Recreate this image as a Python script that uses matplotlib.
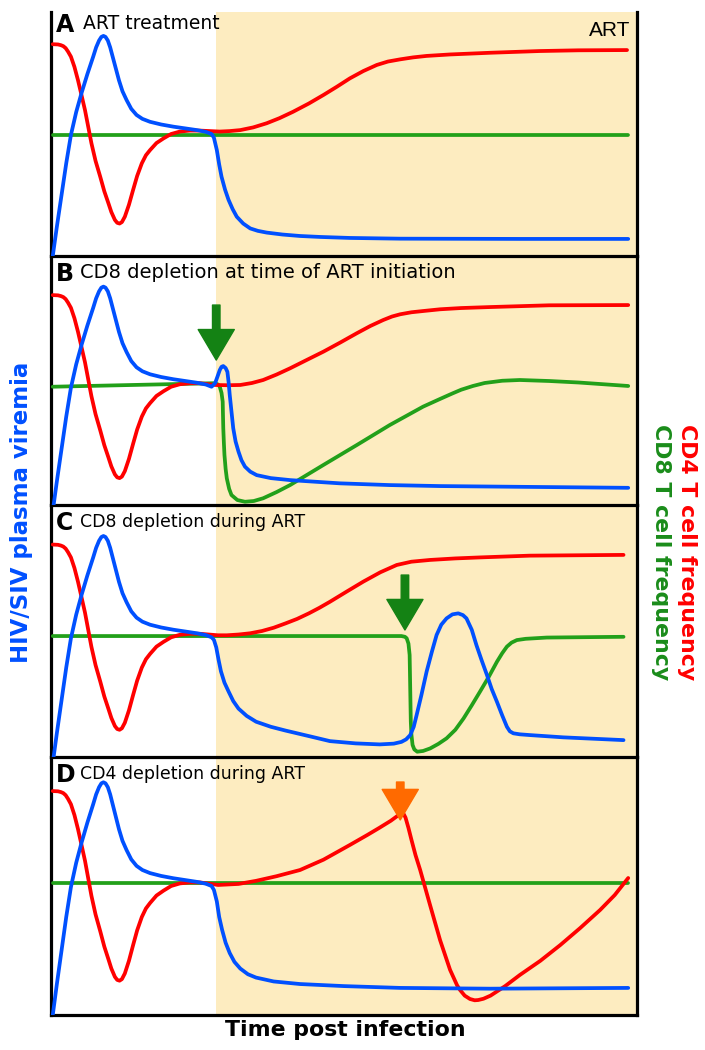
import numpy as np
import matplotlib.pyplot as plt

# schematic curves, time 0-100 (arbitrary), level 0-100 (arbitrary)
art_start = 28.1

# pre-ART part, shared by all four panels
early_t_blue = [0.3, 1.0, 1.8, 2.6, 3.4, 4.3, 5.2, 6.2, 7.2, 7.7, 8.2, 8.6, 8.95, 9.3, 9.7, 10.1,
                10.6, 11.1, 11.6, 12.2, 12.9, 13.7, 14.6, 15.6, 16.9, 18.8, 20.9, 22.9, 24.9,
                26.4, 27.4]
early_blue = [0, 12, 25, 38, 49.6, 59, 66.7, 74.5, 81.7, 85.5, 88.3, 89.8, 90.2, 89.8, 88.3, 85.5,
              81, 76.5, 72, 67.5, 63.9, 60.3, 57.8, 56.2, 55.0, 53.9, 53.0, 52.3, 51.6,
              50.9, 50.0]
early_t_red = [0.3, 1.2, 1.7, 2.1, 2.5, 2.9, 3.4, 4.0, 4.6, 5.2, 5.8, 6.9, 7.6, 8.4, 9.1, 9.8,
               10.3, 10.9, 11.3, 11.7, 12.1, 12.6, 13.3, 14.0, 14.7, 15.5, 16.2, 16.9, 18.0,
               19.2, 20.5, 22.0, 23.7, 25.4]
early_red = [86.8, 86.7, 86.4, 86.0, 85.2, 83.8, 81.7, 77.5, 72.1, 66, 59.8, 46.2, 39, 32.5, 26.5,
             21.6, 18, 14.8, 13.6, 13.3, 13.9, 16.1, 21, 27.0, 32.8, 38.0, 41.3, 43.4, 46.3,
             48.2, 50, 51.0, 51.4, 51.4]
early_shift = [0, -2.5, -2.5, 0]

# A: ART treatment
a_t_red = [28.8, 30.5, 32.3, 34.5, 36.8, 39, 41.3, 44, 46.5, 48.8, 51.0, 53.3, 55.6, 57.5, 59.6,
           61.8, 64.1, 68.1, 75, 83.4, 90, 98.3]
a_red = [51.0, 51.2, 51.6, 52.7, 54.4, 56.5, 59.1, 62.5, 66.0, 69.4, 72.8, 75.8, 78.3, 79.7, 80.6,
         81.4, 82.0, 82.6, 83.3, 84.0, 84.3, 84.4]
a_t_blue = [27.8, 28.3, 28.7, 29.1, 29.7, 30.3, 31.0, 31.7, 32.8, 34.0, 35.3, 36.8, 39.5, 42.5, 46,
            51.0, 59.6, 80, 98.5]
a_blue = [48.5, 43.4, 37.5, 32.5, 27.2, 23.0, 19.2, 16.1, 13.3, 11.3, 10.3, 9.6, 8.8, 8.2, 7.8,
          7.4, 7.1, 7.0, 7.0]
a_t_green = [0.3, 98.5]
a_green = [49.6, 49.6]

# B: CD8 depletion at ART initiation
b_t_red = [28.0, 30.2, 32.3, 34.3, 36.2, 38.5, 40.8, 43.6, 46.5, 49.4, 52.2, 54.5, 56.7, 58.2,
           59.6, 61.5, 63.5, 66.4, 70, 75, 85, 98.5]
b_red = [48.2, 48.1, 48.2, 49, 50.2, 52.4, 54.9, 58.2, 61.6, 65.3, 69.0, 71.9, 74.3, 75.7,
         76.6, 77.4, 77.9, 78.6, 79.1, 79.5, 80.2, 80.3]
b_t_blue = [28.0, 28.4, 28.8, 29.1, 29.4, 29.8, 30.1, 30.3, 30.5, 30.8, 31.1, 31.5, 32.0, 32.5,
            33.1, 34, 35.1, 37.5, 40.8, 49.3, 57.8, 66.4, 98.5]
b_blue = [48.9, 51.5, 54.2, 55.5, 55.8, 55.0, 53.5, 49.5, 44.2, 37.5, 30.8, 25.5, 21.4, 18,
          15.4, 13.4, 12.0, 10.8, 10.0, 8.7, 8.0, 7.6, 6.9]
b_t_green = [0.3, 27.5, 28.0, 28.5, 28.8, 29.1, 29.3, 29.35, 29.4, 29.5, 29.6, 29.8, 30.0, 30.4,
             30.8, 31.8, 33.1, 34.6, 36.2, 38.5, 40.8, 46.5, 52.2, 57.8, 63.5, 66.4, 68.5, 70,
             72, 74, 77, 80, 85, 90, 98.5]
b_green = [47.5, 48.9, 48.9, 48.4, 47.5, 45, 41.5, 36, 30.8, 25, 20.1, 14.5, 10.7, 6.5,
           4.0, 2.0, 1.3, 1.6, 2.7, 5.2, 8.0, 16.1, 24.1, 32.1, 39.5, 42.6, 44.8, 46.3,
           47.8, 49, 49.9, 50.2, 49.8, 49.2, 47.8]

# C: CD8 depletion during ART
c_t_red = [28.5, 30, 32, 34, 36, 38, 40, 42, 44, 45.8, 47.6, 50.5, 53.3, 56.2, 59.0, 61.5, 64.7,
           69, 73.2, 81.7, 97.7]
c_red = [48.3, 48.3, 48.6, 49.1, 50, 51.3, 53, 54.8, 57, 59.2, 61.6, 65.7, 69.6, 73.3, 76.2,
         77.5, 78.2, 78.8, 79.2, 79.9, 80.2]
c_t_blue = [27.8, 28.2, 28.6, 29.0, 29.6, 30.3, 31.1, 32, 33.4, 35, 37.5, 40, 44, 47.6, 52, 56.1,
            58.5, 59.8, 60.6, 61.3, 61.9, 62.4, 63.2, 64.1, 65.0, 65.8, 66.6, 67.5, 68.5, 69.5,
            70.3, 70.9, 71.8, 72.6, 73.5, 74.4, 75.2, 76.1, 77.0, 77.8, 78.3, 78.9, 80, 81.7,
            87.4, 97.7]
c_blue = [46.5, 43.5, 38.5, 34, 29.5, 26, 22.2, 19.2, 16.3, 14, 12, 10.5, 8.3, 6.3, 5.4, 5.0,
          5.3, 6.0, 7, 8.7, 12, 16.7, 24.5, 33.9, 41.8, 48.4, 52.5, 55.0, 56.6, 57.0,
          56.3, 55.0, 50.5, 44.4, 38.3, 32.5, 27, 21.9, 16.5, 12.0, 10.2, 9.4, 9.0, 8.7,
          7.8, 6.7]
c_t_green = [0.3, 59.8, 60.4, 60.7, 61.0, 61.2, 61.25, 61.3, 61.35, 61.4, 61.5, 61.7, 62.0, 62.5,
             63.5, 64.7, 66.1, 67.5, 69, 70.4, 71.8, 73.2, 74.7, 76.1, 77.0, 77.8, 78.6, 79.5,
             81, 84.6, 97.7]
c_green = [48, 48, 47.7, 47.1, 45, 40.5, 34, 27.2, 20.5, 14.0, 9, 4.8, 3.0, 2.1,
           2.4, 3.4, 5.2, 7.4, 10.8, 15.3, 20.5, 25.9, 31.8, 37.8, 41.2, 43.8, 45.4, 46.4,
           46.9, 47.4, 47.7]

# D: CD4 depletion during ART
d_t_red = [28.5, 32, 35, 38.5, 42.5, 46.5, 51, 54, 56, 58, 59.2, 60.0, 60.5, 61.0, 61.5, 62.2, 63,
           64.7, 66.4, 68.1, 69.3, 69.8, 70.6, 71.5, 72.3, 72.9, 73.8, 75, 77.5, 80, 83.5, 86.9,
           90.3, 93.7, 96.2, 98.5]
d_red = [50.4, 50.8, 52, 53.8, 56.2, 60.2, 65.9, 69.8, 72.5, 75.3, 77.3, 78.7, 76.5, 72.5, 68,
         62, 56.2, 42.5, 29, 17.5, 11.5, 9.7, 7.5, 6.2, 5.7, 5.8, 6.3, 7.5, 11.2, 15.5, 21, 27.1,
         33.7, 40.7, 46.5, 53.1]
d_t_blue = [27.8, 28.3, 28.7, 29.2, 29.8, 30.5, 31.3, 32.3, 33.6, 35, 38, 42.5, 50, 59.6, 75, 98.5]
d_blue = [48.5, 44, 38, 33, 28, 24, 20.6, 18, 15.8, 14.5, 13, 12, 11.2, 10.5, 10.2, 10.5]
d_t_green = [0.3, 98.5]
d_green = [51.2, 51.2]

panel_letters = ['A', 'B', 'C', 'D']
panel_titles = ['ART treatment', 'CD8 depletion at time of ART initiation',
                'CD8 depletion during ART', 'CD4 depletion during ART']
title_size = [13.5, 14, 12.5, 12.5]
arrow_time = [None, 28.2, 60.4, 59.6]
arrow_top = [None, 80.3, 72.2, 90.3]
arrow_tip = [None, 58.2, 50.4, 75.6]
arrow_color = [None, '#148214', '#148214', '#ff6a00']

reds = [(a_t_red, a_red), (b_t_red, b_red), (c_t_red, c_red), (d_t_red, d_red)]
blues = [(a_t_blue, a_blue), (b_t_blue, b_blue), (c_t_blue, c_blue), (d_t_blue, d_blue)]
greens = [(a_t_green, a_green), (b_t_green, b_green), (c_t_green, c_green), (d_t_green, d_green)]

RED = '#ff0000'
BLUE = '#0050ff'
GREEN = '#22a01a'
SHADE = '#fdecc0'

W, H = 705, 1050
fig = plt.figure(figsize=(W / 100, H / 100), dpi=100)

# panel edges in pixels (top, bottom)
edges = [(12, 256), (256, 505), (505, 757), (757, 1015)]
x0, x1 = 51, 637

for i, (top, bot) in enumerate(edges):
    ax = fig.add_axes([x0 / W, 1 - bot / H, (x1 - x0) / W, (bot - top) / H])
    ax.set_zorder(10 - i)  # upper panel on top so its bottom border stays whole
    ax.set_facecolor('none')
    ax.set_xlim(0, 100)
    ax.set_ylim(0, 100)
    ax.axvspan(art_start, 100, color=SHADE, lw=0, zorder=0)

    s = early_shift[i]
    rt, rv = reds[i]
    bt, bv = blues[i]
    gt, gv = greens[i]
    kw = dict(lw=2.7, solid_capstyle='round', solid_joinstyle='round', zorder=3)
    ax.plot(gt, gv, color=GREEN, **kw)
    ax.plot(early_t_red + rt, [v + s for v in early_red] + rv, color=RED, **kw)
    ax.plot(early_t_blue + bt, [v + s for v in early_blue] + bv, color=BLUE, **kw)

    if arrow_time[i] is not None:
        ax.annotate('', xy=(arrow_time[i], arrow_tip[i]), xytext=(arrow_time[i], arrow_top[i]),
                    arrowprops=dict(arrowstyle='simple,head_length=1.1,head_width=1.3,tail_width=0.27',
                                    color=arrow_color[i], shrinkA=0, shrinkB=0, mutation_scale=20),
                    zorder=5)

    ax.text(0.008, 0.995 if i == 0 else 0.975, panel_letters[i], transform=ax.transAxes,
            fontsize=17, fontweight='bold', va='top', ha='left', zorder=6)
    ax.text(0.055 if i == 0 else 0.05, 0.99 if i == 0 else 0.97, panel_titles[i],
            transform=ax.transAxes, fontsize=title_size[i], va='top', ha='left', zorder=6)
    if i == 0:
        ax.text(0.988, 0.965, 'ART', transform=ax.transAxes, fontsize=15,
                family='Liberation Sans', va='top', ha='right', zorder=6)

    ax.set_xticks([])
    ax.set_yticks([])
    ax.spines['top'].set_visible(False)
    for side in ['left', 'right', 'bottom']:
        ax.spines[side].set_linewidth(2.3)

fig.text(22 / W, 1 - 512 / H, 'HIV/SIV plasma viremia', rotation=90, color=BLUE,
         fontsize=16.5, fontweight='bold', ha='center', va='center')
fig.text(661 / W, 1 - 552 / H, 'CD8 T cell frequency', rotation=270, color='#1a8c1a',
         fontsize=15.8, fontweight='bold', ha='center', va='center')
fig.text(687 / W, 1 - 552 / H, 'CD4 T cell frequency', rotation=270, color=RED,
         fontsize=15.8, fontweight='bold', ha='center', va='center')
fig.text(345 / W, 1 - 1030 / H, 'Time post infection', fontsize=15.8, fontweight='bold',
         ha='center', va='center')

fig.savefig('out.png', dpi=100)
